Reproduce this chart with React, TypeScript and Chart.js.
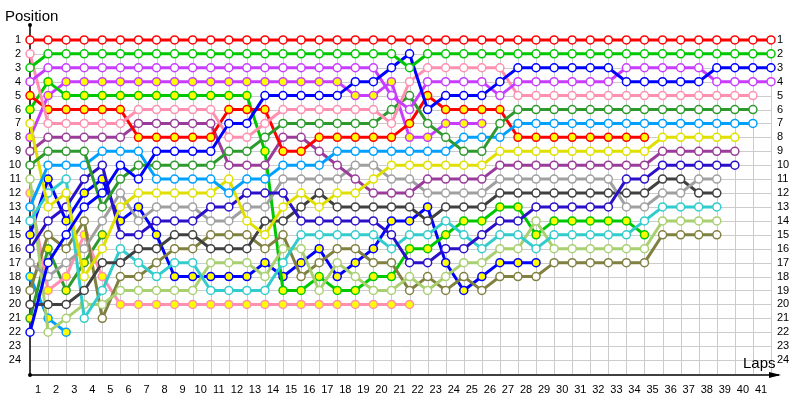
import { useEffect, useRef } from 'react';
import { Chart, registerables } from 'chart.js';

Chart.register(...registerables);

// Positions per lap (index 0 = grid / start, index n = after lap n)
const R_w = [1,1,1,1,1,1,1,1,1,1,1,1,1,1,1,1,1,1,1,1,1,1,1,1,1,1,1,1,1,1,1,1,1,1,1,1,1,1,1,1,1,1];
const G_w = [3,2,2,2,2,2,2,2,2,2,2,2,2,2,2,2,2,2,2,2,2,3,2,2,2,2,2,2,2,2,2,2,2,2,2,2,2,2,2,2,2,2];
const V_w = [4,3,3,3,3,3,3,3,3,3,3,3,3,3,3,3,3,3,3,3,5,6,4,4,4,4,5,4,4,4,4,4,4,3,3,3,3,3,4,4,4,4];
const B_w = [22,17,15,13,12,10,11,9,9,9,9,7,7,5,5,5,5,5,4,4,3,2,6,5,5,5,4,3,3,3,3,3,3,4,4,4,4,4,3,3,3,3];
const Pk_w = [2,7,7,7,7,7,6,6,6,6,6,8,8,7,6,6,6,6,6,6,7,4,3,3,3,3,3,5,5,5,5,5,5,5,5,5,5,5,5,5,5];
const R_y = [5,6,6,6,6,6,8,8,8,8,8,6,6,6,9,9,8,8,8,8,8,7,5,6,6,6,6,8,8,8,8,8,8,8,8];
const G_y = [6,4,5,5,5,5,5,5,5,5,5,5,5,9,19,19,18,19,19,18,18,16,16,15,14,14,13,13,15,14,14,14,14,14,15];
const Y_w = [7,13,12,18,16,13,12,12,12,12,12,11,14,15,13,12,13,12,12,11,10,10,10,10,10,10,9,9,9,9,9,9,9,9,9,8,8,8,8,8];
const V_y = [8,5,4,4,4,4,4,4,4,4,4,4,4,4,4,4,4,4,5,5,4,8,8,7,7,7];
const P_w = [9,8,8,8,8,8,7,7,7,7,7,10,10,10,8,8,9,10,11,12,12,12,11,11,11,11,10,10,10,10,10,10,10,10,10,9,9,9,9,9];
const DG_w = [10,9,9,9,13,11,10,10,10,10,10,9,9,8,7,7,7,7,7,7,6,5,7,8,9,9,7,6,6,6,6,6,6,6,6,6,6,6,6,6,6];
const LG_w = [11,22,21,20,20,19,19,19,19,19,17,17,17,18,16,16,19,17,18,19,19,18,19,18,17,17,16,16,14,16,16,16,16,16,16,14,14,14,14];
const Pk_y = [12,19,18,15,18,20,20,20,20,20,20,20,20,20,20,20,20,20,20,20,20,20];
const LB_w = [13,10,10,10,9,9,9,11,11,11,11,12,11,11,10,10,10,9,9,9,9,9,9,9,8,8,8,7,7,7,7,7,7,7,7,7,7,7,7,7,7];
const C_w = [14,12,11,21,19,16,17,18,17,17,19,19,19,19,17,15,15,15,15,15,16,15,15,14,15,16,15,15,16,15,15,15,15,15,14,13,13,13,13];
const B_y = [15,11,14,12,11,14,13,15,18,18,18,18,18,17,18,17,16,18,17,16,14,14,13,17,19,18,17,17,17];
const DB_w = [16,14,13,11,10,15,15,14,14,14,13,13,12,12,12,14,14,14,14,14,15,17,17,16,16,15,14,14,13,13,13,13,13,11,11,10,10,10,10,10];
const Gr_w = [17,18,17,16,14,12,14,13,13,13,14,14,13,13,11,11,11,11,10,10,11,11,12,12,12,12,11,11,11,11,11,11,11,13,13,12,12,11,11];
const LB_y = [18,21,22];
const O_w = [19,15,16,14,21,18,18,17,16,16,15,15,15,16,15,18,17,16,16,17,17,19,18,19,18,19,18,18,18,17,17,17,17,17,17,15,15,15,15];
const Bk_w = [20,20,20,19,17,17,16,16,15,15,16,16,16,14,14,13,12,13,13,13,13,13,14,13,13,13,12,12,12,12,12,12,12,12,12,11,11,12,12];
const DG_y = [21,16,19,17,15];

const LAP_MAX = 41;
const POS_MAX = 25;

const YELLOW = '#ffff00';
const WHITE = '#ffffff';

const drivers: { data: number[]; color: string; fill: string }[] = [
  { data: R_w, color: '#ff0000', fill: WHITE },
  { data: G_w, color: '#00c800', fill: WHITE },
  { data: B_w, color: '#0000ff', fill: WHITE },
  { data: V_w, color: '#c83cff', fill: WHITE },
  { data: Pk_w, color: '#ff90b0', fill: WHITE },
  { data: DG_w, color: '#2e9a2e', fill: WHITE },
  { data: LB_w, color: '#00a0ff', fill: WHITE },
  { data: R_y, color: '#ff0000', fill: YELLOW },
  { data: Y_w, color: '#e0e000', fill: WHITE },
  { data: P_w, color: '#9a3c9a', fill: WHITE },
  { data: DB_w, color: '#2a10c8', fill: WHITE },
  { data: Gr_w, color: '#a0a0a0', fill: WHITE },
  { data: Bk_w, color: '#404040', fill: WHITE },
  { data: C_w, color: '#33cccc', fill: WHITE },
  { data: LG_w, color: '#a8d070', fill: WHITE },
  { data: O_w, color: '#808040', fill: WHITE },
  { data: G_y, color: '#00c800', fill: YELLOW },
  { data: B_y, color: '#0000ff', fill: YELLOW },
  { data: V_y, color: '#c83cff', fill: YELLOW },
  { data: Pk_y, color: '#ff90b0', fill: YELLOW },
  { data: DG_y, color: '#2e9a2e', fill: YELLOW },
  { data: LB_y, color: '#00a0ff', fill: YELLOW },
];

const TICK_FONT = { family: "'Liberation Sans', Arial, sans-serif", size: 11 };
const TITLE_FONT = "15px 'Liberation Sans', Arial, sans-serif";

const framePlugin = {
  id: 'frame',
  beforeDatasetsDraw(chart: any) {
    const { ctx } = chart;
    const xs = chart.scales.x;
    const ys = chart.scales.y;
    const xL = xs.getPixelForValue(0);
    const xR = xs.getPixelForValue(LAP_MAX);
    const yT = ys.getPixelForValue(1);
    const yB = ys.getPixelForValue(POS_MAX);
    ctx.save();
    ctx.strokeStyle = '#cccccc';
    ctx.lineWidth = 1;
    ctx.beginPath();
    for (let lap = 1; lap <= LAP_MAX; lap++) {
      const x = Math.round(xs.getPixelForValue(lap)) + 0.5;
      ctx.moveTo(x, yT);
      ctx.lineTo(x, yB);
    }
    for (let p = 1; p < POS_MAX; p++) {
      const y = Math.round(ys.getPixelForValue(p)) + 0.5;
      ctx.moveTo(xL, y);
      ctx.lineTo(xR, y);
    }
    ctx.stroke();

    // axes
    ctx.strokeStyle = '#000000';
    ctx.lineWidth = 1.5;
    ctx.beginPath();
    ctx.moveTo(xL, yB + 1);
    ctx.lineTo(xL, 25);
    ctx.moveTo(xL, yB + 1);
    ctx.lineTo(xR + 8, yB + 1);
    ctx.stroke();
    ctx.fillStyle = '#000000';
    ctx.beginPath();
    ctx.moveTo(xR + 10, yB + 1);
    ctx.lineTo(xR - 2, yB - 2);
    ctx.lineTo(xR - 2, yB + 4);
    ctx.closePath();
    ctx.fill();
    ctx.beginPath();
    ctx.arc(xL, 25, 2, 0, Math.PI * 2);
    ctx.arc(xL, yB + 1, 2, 0, Math.PI * 2);
    ctx.fill();

    ctx.font = TITLE_FONT;
    ctx.textBaseline = 'alphabetic';
    ctx.textAlign = 'left';
    ctx.fillText('Position', 5, 21);
    ctx.fillText('Laps', 743, 368);
    ctx.restore();
  },
};

export default function App() {
  const ref = useRef<HTMLCanvasElement | null>(null);
  useEffect(() => {
    if (!ref.current) return;
    const datasets = drivers.map((d) => ({
      data: d.data.map((p, lap) => ({ x: lap, y: p })),
      borderColor: d.color,
      backgroundColor: d.fill,
      pointBackgroundColor: d.fill,
      pointBorderColor: d.color,
      pointRadius: 4,
      pointBorderWidth: 1.5,
      borderWidth: 3,
      tension: 0,
      clip: false as const,
    }));
    const yTicks = (pad: number) => ({
      stepSize: 1,
      autoSkip: false,
      padding: pad,
      color: '#000000',
      font: TICK_FONT,
      callback: (v: any) => (v >= 1 && v <= 24 ? String(v) : ''),
    });
    const chart = new Chart(ref.current, {
      type: 'line',
      data: { datasets },
      plugins: [framePlugin],
      options: {
        animation: false,
        responsive: false,
        maintainAspectRatio: false,
        layout: { padding: { top: 26, left: 0, right: 0, bottom: 0 } },
        plugins: { legend: { display: false }, tooltip: { enabled: false }, title: { display: false } },
        scales: {
          x: {
            type: 'linear',
            min: 0,
            max: LAP_MAX,
            position: 'bottom',
            grid: { display: false, drawTicks: false },
            border: { display: false },
            ticks: {
              stepSize: 1,
              autoSkip: false,
              maxRotation: 0,
              minRotation: 0,
              padding: 9,
              labelOffset: -10,
              color: '#000000',
              font: TICK_FONT,
              callback: (v: any) => (v >= 1 ? String(v) : ''),
            },
            afterFit: (s: any) => { s.height = 26; },
          },
          y: {
            type: 'linear',
            min: 0,
            max: POS_MAX,
            reverse: true,
            position: 'left',
            grid: { display: false, drawTicks: false },
            border: { display: false },
            ticks: yTicks(9),
            afterFit: (s: any) => { s.width = 30; },
          },
          y2: {
            type: 'linear',
            min: 0,
            max: POS_MAX,
            reverse: true,
            position: 'right',
            grid: { display: false, drawTicks: false },
            border: { display: false },
            ticks: yTicks(6),
            afterFit: (s: any) => { s.width = 29; },
          },
        },
      } as any,
    });
    return () => chart.destroy();
  }, []);
  return (
    <div style={{ position: 'absolute', left: 0, top: 0, width: 800, height: 400, background: '#fff' }}>
      <canvas ref={ref} width={800} height={400} />
    </div>
  );
}
